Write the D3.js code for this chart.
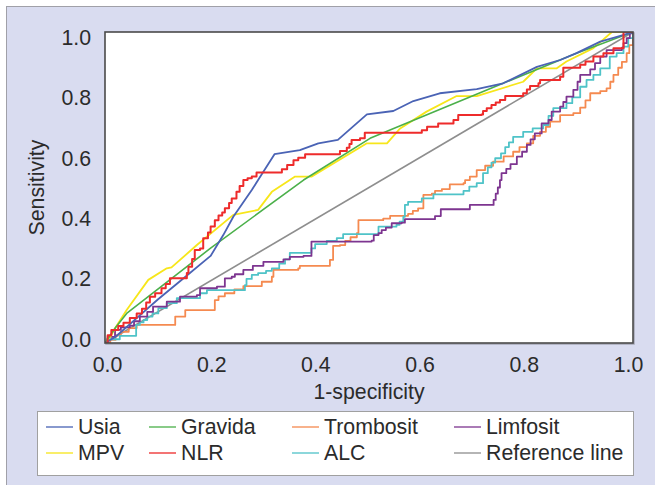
<!DOCTYPE html>
<html>
<head>
<meta charset="utf-8">
<script src="https://cdn.jsdelivr.net/npm/d3@7"></script>
<style>
  body { margin: 0; background: #fff; }
  text { font-family: "Liberation Sans", Arial, sans-serif; fill: #2b2b2b; }
</style>
</head>
<body>
<script>
// ROC-Kurven: [1-specificity, sensitivity]
const usia = [[0,0],[0.02,0.02],[0.06,0.08],[0.1,0.14],[0.15,0.21],[0.2,0.28],[0.224,0.347],[0.243,0.406],[0.278,0.492],[0.29,0.524],[0.321,0.607],[0.369,0.62],[0.404,0.642],[0.441,0.653],[0.496,0.735],[0.546,0.746],[0.584,0.778],[0.634,0.803],[0.704,0.816],[0.754,0.835],[0.818,0.888],[0.862,0.91],[0.893,0.932],[0.938,0.969],[0.981,0.99],[1,1]];
const gravida = [[0,0],[0.02,0.05],[0.041,0.095],[0.2,0.305],[0.376,0.524],[0.502,0.658],[0.754,0.835],[0.893,0.932],[1,1]];
const mpv = [[0,0],[0.01,0.02],[0.02,0.05],[0.041,0.106],[0.082,0.203],[0.117,0.24],[0.126,0.243],[0.174,0.315],[0.243,0.412],[0.29,0.428],[0.316,0.486],[0.35,0.524],[0.36,0.535],[0.391,0.535],[0.496,0.642],[0.534,0.642],[0.559,0.69],[0.609,0.744],[0.666,0.794],[0.704,0.794],[0.792,0.84],[0.818,0.883],[0.855,0.883],[0.874,0.905],[0.925,0.948],[0.96,1],[1,1]];
const nlr = [[0,0],[0.005,0.025],[0.012,0.042],[0.025,0.055],[0.035,0.065],[0.047,0.08],[0.06,0.095],[0.07,0.11],[0.078,0.13],[0.085,0.149],[0.095,0.16],[0.107,0.176],[0.115,0.19],[0.123,0.208],[0.155,0.225],[0.158,0.245],[0.165,0.27],[0.17,0.299],[0.18,0.304],[0.186,0.337],[0.195,0.355],[0.2,0.375],[0.208,0.395],[0.215,0.41],[0.222,0.42],[0.227,0.433],[0.235,0.45],[0.24,0.465],[0.249,0.486],[0.255,0.505],[0.262,0.524],[0.27,0.53],[0.278,0.535],[0.287,0.548],[0.335,0.559],[0.345,0.572],[0.357,0.588],[0.366,0.596],[0.379,0.607],[0.445,0.617],[0.458,0.628],[0.463,0.64],[0.467,0.653],[0.483,0.658],[0.492,0.676],[0.6,0.684],[0.61,0.695],[0.631,0.706],[0.66,0.717],[0.669,0.733],[0.713,0.735],[0.716,0.746],[0.723,0.755],[0.732,0.765],[0.74,0.773],[0.748,0.781],[0.758,0.794],[0.792,0.803],[0.799,0.815],[0.805,0.826],[0.821,0.835],[0.824,0.846],[0.862,0.856],[0.868,0.885],[0.9,0.895],[0.91,0.905],[0.925,0.921],[0.944,0.932],[0.963,0.948],[0.982,1],[1,1]];
const trombosit = [[0,0],[0.01,0.01],[0.02,0.025],[0.03,0.036],[0.045,0.048],[0.06,0.058],[0.133,0.085],[0.152,0.106],[0.208,0.138],[0.215,0.15],[0.227,0.16],[0.245,0.172],[0.262,0.183],[0.297,0.197],[0.316,0.213],[0.319,0.235],[0.366,0.24],[0.369,0.248],[0.426,0.267],[0.432,0.312],[0.445,0.315],[0.455,0.328],[0.465,0.34],[0.477,0.353],[0.48,0.395],[0.527,0.4],[0.54,0.409],[0.574,0.415],[0.583,0.425],[0.593,0.433],[0.603,0.476],[0.619,0.48],[0.625,0.489],[0.638,0.495],[0.653,0.51],[0.679,0.514],[0.682,0.524],[0.691,0.535],[0.704,0.556],[0.72,0.57],[0.735,0.583],[0.755,0.6],[0.773,0.615],[0.785,0.63],[0.799,0.642],[0.811,0.666],[0.824,0.679],[0.835,0.695],[0.843,0.712],[0.862,0.733],[0.887,0.739],[0.9,0.757],[0.91,0.78],[0.919,0.803],[0.938,0.81],[0.95,0.819],[0.957,0.84],[0.963,0.862],[0.972,0.885],[0.979,0.904],[0.988,0.932],[0.993,0.958],[1,1]];
const alc = [[0,0],[0.003,0.012],[0.028,0.023],[0.059,0.058],[0.066,0.066],[0.073,0.074],[0.08,0.085],[0.09,0.095],[0.101,0.112],[0.117,0.128],[0.136,0.144],[0.18,0.16],[0.193,0.17],[0.265,0.186],[0.268,0.206],[0.278,0.219],[0.29,0.225],[0.305,0.232],[0.316,0.24],[0.33,0.255],[0.341,0.269],[0.35,0.29],[0.391,0.304],[0.398,0.318],[0.42,0.328],[0.439,0.337],[0.451,0.35],[0.518,0.361],[0.518,0.374],[0.552,0.38],[0.558,0.39],[0.565,0.406],[0.568,0.444],[0.574,0.454],[0.6,0.465],[0.622,0.478],[0.679,0.489],[0.69,0.503],[0.704,0.514],[0.716,0.546],[0.725,0.565],[0.732,0.58],[0.739,0.594],[0.75,0.61],[0.758,0.63],[0.765,0.645],[0.773,0.663],[0.792,0.679],[0.81,0.69],[0.83,0.701],[0.84,0.73],[0.849,0.755],[0.874,0.771],[0.885,0.79],[0.9,0.824],[0.912,0.846],[0.925,0.862],[0.938,0.883],[0.956,0.921],[0.969,0.932],[0.982,0.953],[0.991,0.98],[1,1]];
const limfosit = [[0,0],[0.005,0.02],[0.019,0.042],[0.03,0.05],[0.047,0.056],[0.055,0.07],[0.066,0.085],[0.08,0.1],[0.091,0.117],[0.117,0.133],[0.142,0.149],[0.174,0.154],[0.18,0.176],[0.212,0.181],[0.227,0.208],[0.24,0.213],[0.246,0.221],[0.262,0.235],[0.28,0.248],[0.3,0.261],[0.338,0.269],[0.35,0.277],[0.376,0.28],[0.391,0.326],[0.505,0.329],[0.509,0.347],[0.518,0.353],[0.524,0.363],[0.532,0.371],[0.543,0.385],[0.562,0.387],[0.568,0.398],[0.625,0.408],[0.636,0.43],[0.691,0.444],[0.736,0.46],[0.74,0.48],[0.744,0.5],[0.748,0.524],[0.751,0.546],[0.76,0.56],[0.768,0.575],[0.78,0.599],[0.79,0.615],[0.799,0.637],[0.806,0.655],[0.814,0.674],[0.827,0.706],[0.84,0.717],[0.846,0.744],[0.862,0.76],[0.868,0.775],[0.874,0.792],[0.887,0.814],[0.895,0.84],[0.9,0.862],[0.919,0.88],[0.928,0.9],[0.938,0.921],[0.95,0.942],[0.979,0.95],[0.982,0.964],[0.988,0.98],[0.994,0.996],[1,1]];
const referenceLine = [[0,0],[1,1]];

const tickValues = [0, 0.2, 0.4, 0.6, 0.8, 1.0];
const legendNames = ["Usia", "Gravida", "Trombosit", "Limfosit", "MPV", "NLR", "ALC", "Reference line"];

// Reihen: Name, Daten, Farbe, Treppe ja/nein (Zeichenreihenfolge)
const series = [
  { name: "Reference line", data: referenceLine, color: "#8e8e8e", step: false, w: 1.6 },
  { name: "Trombosit", data: trombosit, color: "#f58a50", step: true, w: 1.8 },
  { name: "ALC", data: alc, color: "#4fc3c8", step: true, w: 1.8 },
  { name: "Limfosit", data: limfosit, color: "#7d3590", step: true, w: 1.8 },
  { name: "MPV", data: mpv, color: "#f7e61a", step: false, w: 1.8 },
  { name: "Gravida", data: gravida, color: "#4bb04a", step: false, w: 1.6 },
  { name: "Usia", data: usia, color: "#4a63b5", step: false, w: 1.8 },
  { name: "NLR", data: nlr, color: "#ee2b2b", step: true, w: 2 }
];
const colorOf = {};
series.forEach((s) => (colorOf[s.name] = s.color));

const width = 655;
const height = 485;
const plot = { left: 105, top: 32, right: 633, bottom: 343 };
const fontSize = "21.3px";

const svg = d3
  .select("body")
  .append("svg")
  .attr("width", width)
  .attr("height", height);

// Hintergrund
svg
  .append("rect")
  .attr("x", 6.5)
  .attr("y", 6.5)
  .attr("width", width + 20)
  .attr("height", height + 20)
  .attr("fill", "#d9dcf0")
  .attr("stroke", "#a0a0a8")
  .attr("stroke-width", 1);

let x = d3.scaleLinear().domain([0, 1]).range([plot.left, plot.right]);
let y = d3.scaleLinear().domain([0, 1]).range([plot.bottom, plot.top]);
// Beschriftungen liegen leicht nach innen versetzt
let xLabel = d3.scaleLinear().domain([0, 1]).range([107, 628]);
let yLabel = d3.scaleLinear().domain([0, 1]).range([339.5, 37.5]);

svg
  .append("rect")
  .attr("x", plot.left + 1)
  .attr("y", plot.top + 1)
  .attr("width", plot.right - plot.left)
  .attr("height", plot.bottom - plot.top)
  .attr("fill", "none")
  .attr("stroke", "#a5a7b5")
  .attr("stroke-width", 1.5);

svg
  .append("rect")
  .attr("x", plot.left)
  .attr("y", plot.top)
  .attr("width", plot.right - plot.left)
  .attr("height", plot.bottom - plot.top)
  .attr("fill", "#fff");

svg
  .append("clipPath")
  .attr("id", "clip")
  .append("rect")
  .attr("x", plot.left)
  .attr("y", plot.top)
  .attr("width", plot.right - plot.left)
  .attr("height", plot.bottom - plot.top);

let lineGroup = svg.append("g").attr("clip-path", "url(#clip)");

series.forEach((s) => {
  let line = d3
    .line()
    .x((d) => x(d[0]))
    .y((d) => y(d[1]))
    .curve(s.step ? d3.curveStepAfter : d3.curveLinear);
  lineGroup
    .append("path")
    .datum(s.data)
    .attr("d", line)
    .attr("fill", "none")
    .attr("stroke", s.color)
    .attr("stroke-width", s.w)
    .attr("stroke-linejoin", "round");
});

// Rahmen
svg
  .append("rect")
  .attr("x", plot.left)
  .attr("y", plot.top)
  .attr("width", plot.right - plot.left)
  .attr("height", plot.bottom - plot.top)
  .attr("fill", "none")
  .attr("stroke", "#4a4a4a")
  .attr("stroke-width", 1.6);

// Achsen
let xAxis = svg
  .append("g")
  .attr("transform", `translate(0,${plot.bottom})`)
  .call(
    d3.axisBottom(xLabel).tickValues(tickValues).tickFormat(d3.format(".1f")).tickSize(0).tickPadding(14)
  );
let yAxis = svg
  .append("g")
  .attr("transform", `translate(${plot.left},0)`)
  .call(
    d3.axisLeft(yLabel).tickValues(tickValues).tickFormat(d3.format(".1f")).tickSize(0).tickPadding(14)
  );
[xAxis, yAxis].forEach((a) => {
  a.select(".domain").remove();
  a.selectAll("text").style("font-size", fontSize).attr("fill", "#2b2b2b");
});

svg
  .append("text")
  .attr("x", (plot.left + plot.right) / 2)
  .attr("y", 399)
  .attr("text-anchor", "middle")
  .style("font-size", fontSize)
  .text("1-specificity");

svg
  .append("text")
  .attr("transform", `translate(44,${(plot.top + plot.bottom) / 2}) rotate(-90)`)
  .attr("text-anchor", "middle")
  .style("font-size", fontSize)
  .text("Sensitivity");

// Legende
svg
  .append("rect")
  .attr("x", 37.5)
  .attr("y", 411.5)
  .attr("width", 596)
  .attr("height", 64)
  .attr("fill", "#fff")
  .attr("stroke", "#a0a0a0");

const colX = [46, 149, 292, 454];
const rowY = [427, 453];
legendNames.forEach((name, i) => {
  let cx = colX[i % 4];
  let cy = rowY[Math.floor(i / 4)];
  svg
    .append("line")
    .attr("x1", cx)
    .attr("x2", cx + 27)
    .attr("y1", cy)
    .attr("y2", cy)
    .attr("stroke", colorOf[name])
    .attr("stroke-width", 2)
    .attr("opacity", 0.65);
  svg
    .append("text")
    .attr("x", cx + 32)
    .attr("y", cy)
    .attr("dy", "0.35em")
    .style("font-size", fontSize)
    .text(name);
});
</script>
</body>
</html>
